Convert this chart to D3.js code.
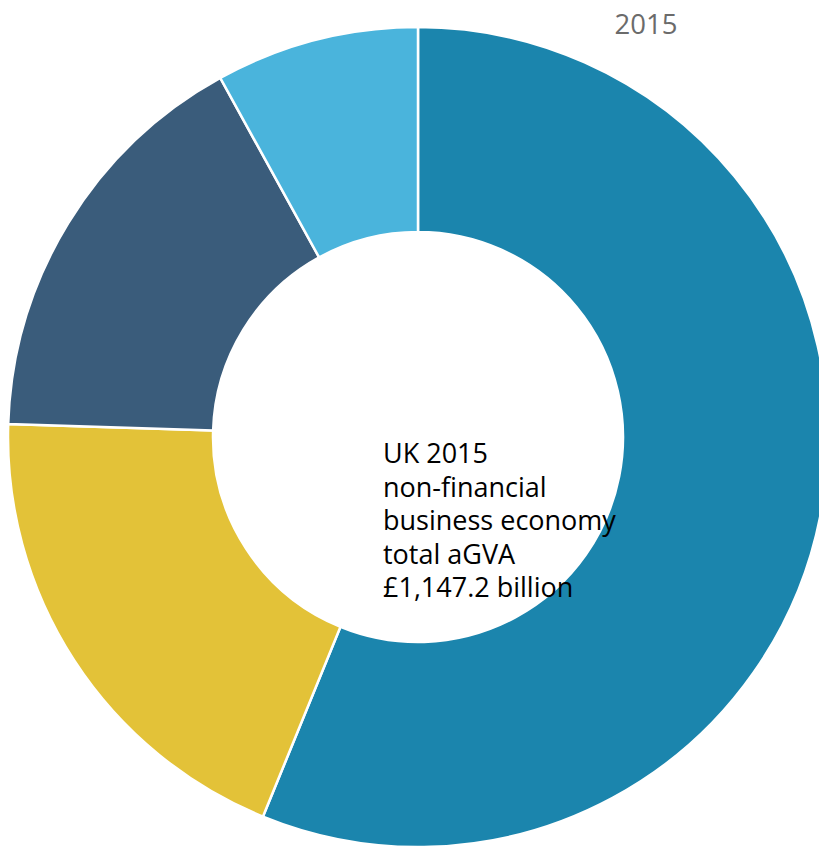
<!DOCTYPE html>
<html>
<head>
<meta charset="utf-8">
<script src="https://cdn.jsdelivr.net/npm/d3@7"></script>
<style>
  html, body { margin: 0; padding: 0; background: #fff; overflow: hidden; }
  svg { display: block; font-family: "Open Sans", sans-serif; }
</style>
</head>
<body>
<svg id="chart" width="819" height="846"></svg>
<script>
// aGVA by business size band, £ billion
const categories = ["Large (250+)", "Medium (50-249)", "Small (10-49)", "Micro (0-9)"];
const values = [644.4, 221.8, 189.1, 91.9];
const colors = ["#1b85ad", "#e3c238", "#3a5c7b", "#4ab4dc"];
const title = "2015";
const centreLines = ["UK 2015", "non-financial", "business economy", "total aGVA", "£1,147.2 billion"];

const svg = d3.select("#chart");
const cx = 418, cy = 437;
const outerR = 410, innerR = 205;

const data = categories.map((c, i) => ({ category: c, value: values[i] }));

const color = d3.scaleOrdinal().domain(categories).range(colors);

const pie = d3.pie().value(d => d.value).sort(null);
const arc = d3.arc().innerRadius(innerR).outerRadius(outerR);

const g = svg.append("g").attr("transform", `translate(${cx},${cy})`);

g.selectAll("path")
  .data(pie(data))
  .join("path")
  .attr("d", arc)
  .attr("fill", d => color(d.data.category))
  .attr("stroke", "#fff")
  .attr("stroke-width", 2.5);

svg.append("text")
  .attr("x", 646)
  .attr("y", 34)
  .attr("text-anchor", "middle")
  .attr("font-size", 27.5)
  .attr("fill", "#6b6b6b")
  .text(title);

const label = svg.append("text")
  .attr("x", 383)
  .attr("y", 463)
  .attr("font-size", 27)
  .attr("fill", "#000");

label.selectAll("tspan")
  .data(centreLines)
  .join("tspan")
  .attr("x", 383)
  .attr("dy", (d, i) => i === 0 ? 0 : 33.6)
  .text(d => d);
</script>
</body>
</html>
